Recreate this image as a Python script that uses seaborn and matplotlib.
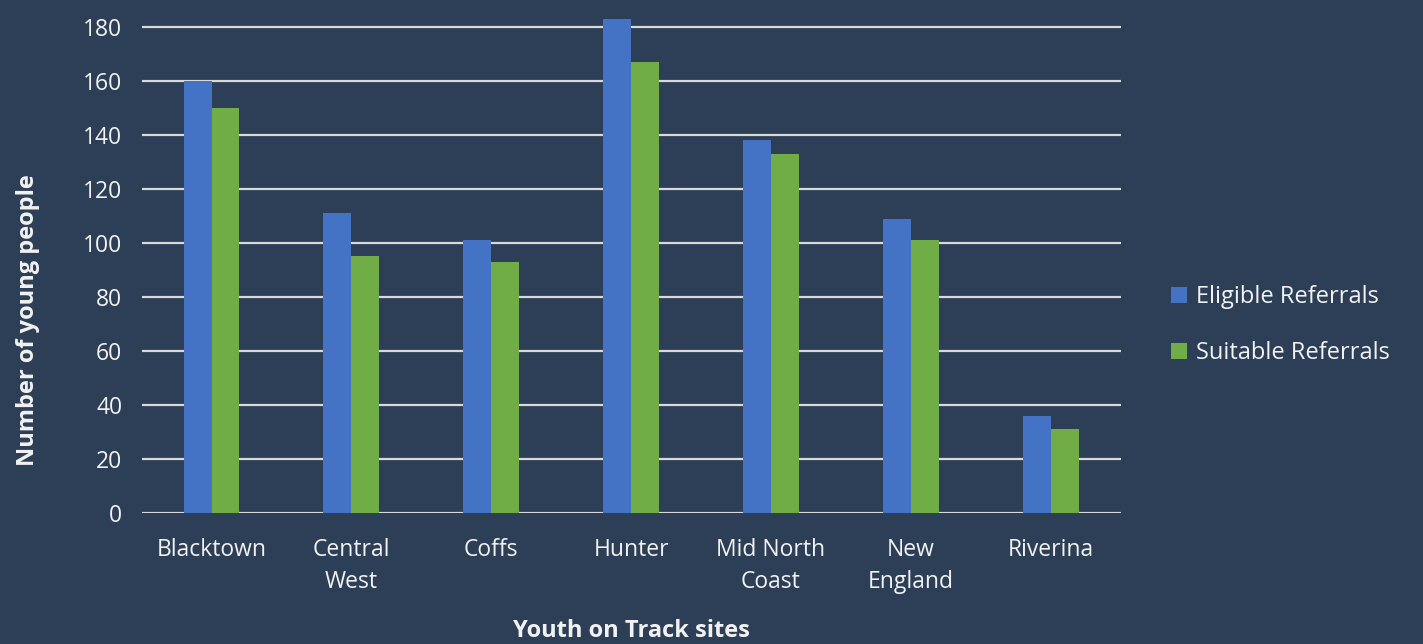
import matplotlib
matplotlib.use("Agg")
import matplotlib.pyplot as plt
import seaborn as sns
import pandas as pd

sites = ["Blacktown", "Central\nWest", "Coffs", "Hunter", "Mid North\nCoast", "New\nEngland", "Riverina"]
eligible = [160, 111, 101, 183, 138, 109, 36]
suitable = [150, 95, 93, 167, 133, 101, 31]
series_names = ["Eligible Referrals", "Suitable Referrals"]
yticks = [0, 20, 40, 60, 80, 100, 120, 140, 160, 180]

df = pd.DataFrame({
    "site": sites * 2,
    "value": eligible + suitable,
    "series": [series_names[0]] * len(sites) + [series_names[1]] * len(sites),
})

bg = "#2c3f56"
txt = "#f2f2f2"
sns.set_theme(style="white")
plt.rcParams['font.family'] = ['Open Sans', 'DejaVu Sans']

fig = plt.figure(figsize=(14.23, 6.44), dpi=100, facecolor=bg)
ax = fig.add_axes([0.0995, 0.2034, 0.688, 0.776])
ax.set_facecolor(bg)

sns.barplot(data=df, x="site", y="value", hue="series", order=sites,
            hue_order=series_names, palette=["#4472C4", "#70AD47"],
            width=0.4, ax=ax, saturation=1, zorder=3, edgecolor="none")

ax.set_ylim(0, 185)
ax.set_yticks(yticks)
ax.set_yticklabels([str(v) for v in yticks], color=txt, fontsize=16.5)
ax.set_xticks(range(len(sites)))
ax.set_xticklabels(sites, color=txt, fontsize=16.5, linespacing=1.45)
ax.yaxis.grid(True, color="#d9d9d9", linewidth=1.6, zorder=0)
ax.set_axisbelow(True)
for s in ax.spines.values():
    s.set_visible(False)
ax.axhline(0, color="#d9d9d9", linewidth=1.8, zorder=1)
ax.tick_params(axis="y", length=0, pad=14)
ax.tick_params(axis="x", length=0, pad=18)
ax.set_xlim(-0.5, len(sites) - 0.5)

ax.set_ylabel("Number of young people", color=txt, fontsize=17, fontweight="bold")
ax.yaxis.set_label_coords(-0.104, 0.386)
ax.set_xlabel("Youth on Track sites", color=txt, fontsize=17, fontweight="bold")
ax.xaxis.set_label_coords(0.5, -0.212)

leg = ax.legend(loc="center left", bbox_to_anchor=(1.03, 0.376), frameon=False,
                fontsize=17, handlelength=0.65, handleheight=0.65, handletextpad=0.4,
                labelspacing=1.35)
for t in leg.get_texts():
    t.set_color(txt)

fig.savefig("out.png", dpi=100, facecolor=bg)
